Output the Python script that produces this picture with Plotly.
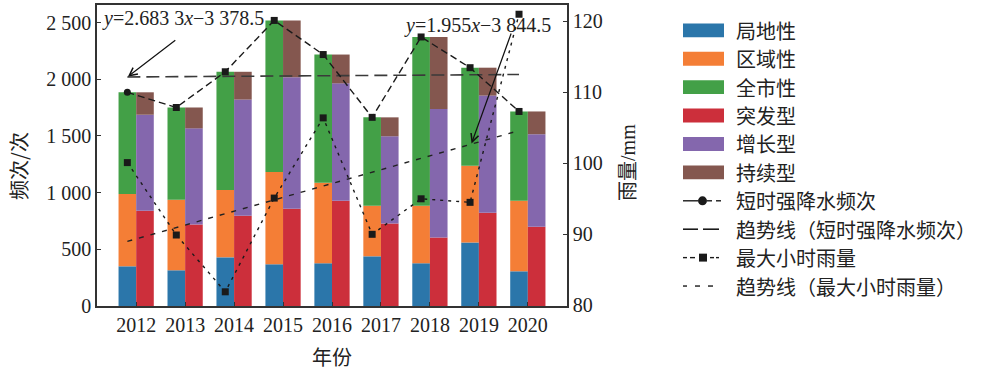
import plotly.graph_objects as go

# ---------------- data ----------------
years = [2012, 2013, 2014, 2015, 2016, 2017, 2018, 2019, 2020]
local_type = [350, 315, 429, 368, 377, 438, 377, 560, 306]        # 局地性
regional_type = [637, 622, 595, 814, 711, 446, 507, 677, 622]     # 区域性
citywide_type = [898, 814, 1042, 1337, 1130, 780, 1489, 865, 788] # 全市性
sudden_type = [840, 718, 797, 858, 928, 727, 604, 823, 700]       # 突发型
growth_type = [847, 849, 1024, 1159, 1036, 770, 1133, 1033, 815]  # 增长型
persist_type = [198, 184, 245, 502, 254, 167, 636, 246, 201]      # 持续型
freq_count = [1885, 1751, 2066, 2519, 2218, 1664, 2373, 2102, 1716]   # 短时强降水频次
max_hourly = [100.1, 89.9, 81.9, 95.1, 106.4, 90.0, 95.0, 94.5, 121.0]  # 最大小时雨量
freq_trend_years = [2012, 2020]
freq_trend = [2020, 2042]
rain_trend_years = [2012, 2020]
rain_trend = [89.0, 104.6]

left_ticks = [0, 500, 1000, 1500, 2000, 2500]
left_ticktext = ["0", "500", "1 000", "1 500", "2 000", "2 500"]
right_ticks = [80, 90, 100, 110, 120]
year_labels = [str(y) for y in years]

left_names = ["局地性", "区域性", "全市性"]
right_names = ["突发型", "增长型", "持续型"]
legend_line_names = ["短时强降水频次", "趋势线（短时强降水频次）", "最大小时雨量", "趋势线（最大小时雨量）"]

colors = ["#2b76aa", "#f47e36", "#43a047", "#cc2f3b", "#8467ad", "#84574f"]

# ---------------- layout constants ----------------
W, H = 983, 374
L, R, T, B = 97, 567, 3, 306
BW = 0.36
SERIF = "Liberation Serif, Noto Sans CJK SC"
CJK = "Noto Sans CJK SC"
TXT = "#222222"


def px(x):
    return (x - L) / (R - L)


def py(y):
    return (B - y) / (B - T)


fig = go.Figure()

# left stacks
base = [0] * len(years)
for name, vals, col in zip(left_names, [local_type, regional_type, citywide_type], colors[:3]):
    fig.add_trace(go.Bar(x=years, y=vals, base=list(base), width=BW, offset=-BW,
                         marker=dict(color=col, line=dict(width=0)), name=name, showlegend=False))
    base = [b + v for b, v in zip(base, vals)]

# right stacks
base = [0] * len(years)
for name, vals, col in zip(right_names, [sudden_type, growth_type, persist_type], colors[3:]):
    fig.add_trace(go.Bar(x=years, y=vals, base=list(base), width=BW, offset=0,
                         marker=dict(color=col, line=dict(width=0)), name=name, showlegend=False))
    base = [b + v for b, v in zip(base, vals)]

xl = [y - BW / 2 for y in years]

# frequency trend
fig.add_trace(go.Scatter(x=[y - BW / 2 for y in freq_trend_years], y=freq_trend, mode="lines",
                         line=dict(color="#3a3a3a", width=1.6, dash="13px,6px"), showlegend=False))
# max hourly trend
fig.add_trace(go.Scatter(x=[y - BW / 2 for y in rain_trend_years], y=rain_trend, mode="lines", yaxis="y2",
                         line=dict(color="#222", width=1.4, dash="5px,7px"), showlegend=False))
# frequency line
fig.add_trace(go.Scatter(x=xl, y=freq_count, mode="lines+markers",
                         line=dict(color="#1a1a1a", width=1.4, dash="7px,4px"),
                         marker=dict(symbol=["circle"] + ["square"] * (len(years) - 1), size=7, color="#1a1a1a"),
                         showlegend=False))
# max hourly line
fig.add_trace(go.Scatter(x=xl, y=max_hourly, mode="lines+markers", yaxis="y2",
                         line=dict(color="#1a1a1a", width=1.4, dash="3px,5px"),
                         marker=dict(symbol="square", size=7, color="#1a1a1a"),
                         showlegend=False))

ann = []
shapes = []

# equations
ann.append(dict(xref="paper", yref="paper", x=px(100), y=py(17), xanchor="left", yanchor="middle",
                text="<i>y</i>=2.683 3<i>x</i>−3 378.5", showarrow=False,
                font=dict(family=SERIF, size=20, color=TXT)))
ann.append(dict(xref="paper", yref="paper", x=px(402), y=py(24), xanchor="left", yanchor="middle",
                text="<i>y</i>=1.955<i>x</i>−3 844.5", showarrow=False,
                font=dict(family=SERIF, size=20, color=TXT)))
# arrows
ann.append(dict(x=2011.83, y=2023, xref="x", yref="y", ax=2012.83, ay=2355, axref="x", ayref="y",
                text="", showarrow=True, arrowhead=5, arrowsize=1.3, arrowwidth=1.2, arrowcolor="#111"))
ann.append(dict(x=2018.85, y=102.8, xref="x", yref="y2", ax=2019.67, ay=118.5, axref="x", ayref="y2",
                text="", showarrow=True, arrowhead=5, arrowsize=1.3, arrowwidth=1.2, arrowcolor="#111"))

# axis titles
ann.append(dict(xref="paper", yref="paper", x=px(19), y=py(165), xanchor="center", yanchor="middle",
                text="频次/次", textangle=-90,
                showarrow=False, font=dict(family=CJK, size=20, color=TXT)))
ann.append(dict(xref="paper", yref="paper", x=px(628), y=py(162), xanchor="center", yanchor="middle",
                text="雨量/mm", textangle=-90,
                showarrow=False, font=dict(family=SERIF, size=20, color=TXT)))
ann.append(dict(xref="paper", yref="paper", x=0.5, y=py(357), xanchor="center", yanchor="middle",
                text="年份",
                showarrow=False, font=dict(family=CJK, size=20, color=TXT)))

# custom legend
lx0, lx1, tx = 683, 724, 734
rows = [28.5 + i * 28.6 for i in range(10)]
names_all = left_names + right_names + legend_line_names
for i, name in enumerate(names_all):
    yc = rows[i]
    ann.append(dict(xref="paper", yref="paper", x=px(tx), y=py(yc), xanchor="left", yanchor="middle",
                    text=name, showarrow=False, font=dict(family=CJK, size=20, color=TXT)))
    if i < 6:
        shapes.append(dict(type="rect", xref="paper", yref="paper", x0=px(lx0), x1=px(lx1),
                           y0=py(yc + 7), y1=py(yc - 7), fillcolor=colors[i], line=dict(width=0)))


def seg(x0, x1, yc, w=1.4):
    shapes.append(dict(type="line", xref="paper", yref="paper", x0=px(x0), x1=px(x1),
                       y0=py(yc), y1=py(yc), line=dict(color="#1a1a1a", width=w)))


# 短时强降水频次
yc = rows[6]
seg(683, 698, yc); seg(707, 712, yc); seg(716, 721, yc)
shapes.append(dict(type="circle", xref="paper", yref="paper", x0=px(698), x1=px(707),
                   y0=py(yc + 4.5), y1=py(yc - 4.5), fillcolor="#1a1a1a", line=dict(width=0)))
# 趋势线（短时强降水频次）
yc = rows[7]
seg(683, 698, yc, 1.6); seg(703, 719, yc, 1.6)
# 最大小时雨量
yc = rows[8]
seg(683, 687, yc); seg(690, 695, yc); seg(710, 714, yc); seg(716, 719, yc)
shapes.append(dict(type="rect", xref="paper", yref="paper", x0=px(699), x1=px(707),
                   y0=py(yc + 4), y1=py(yc - 4), fillcolor="#1a1a1a", line=dict(width=0)))
# 趋势线（最大小时雨量）
yc = rows[9]
seg(683, 687, yc); seg(695, 700, yc); seg(708, 713, yc)

axis_common = dict(showgrid=False, zeroline=False, showline=True, linecolor="#333", linewidth=1.5,
                   ticks="inside", ticklen=4, tickcolor="#333", tickwidth=1.2,
                   tickfont=dict(family=SERIF, size=20, color=TXT))

fig.update_layout(
    width=W, height=H,
    margin=dict(l=L, r=W - R, t=T, b=H - B, pad=0),
    plot_bgcolor="white", paper_bgcolor="white",
    barmode="overlay", showlegend=False,
    font=dict(family=SERIF, size=20, color=TXT),
    xaxis=dict(range=[2011.2, 2020.8], tickvals=years, ticktext=year_labels, mirror=True, **axis_common),
    yaxis=dict(range=[0, 2655], tickvals=left_ticks, ticktext=left_ticktext, **axis_common),
    yaxis2=dict(range=[79.9, 122.3], tickvals=right_ticks, overlaying="y", side="right", **axis_common),
    annotations=ann, shapes=shapes,
)

fig.write_html("out.html")
